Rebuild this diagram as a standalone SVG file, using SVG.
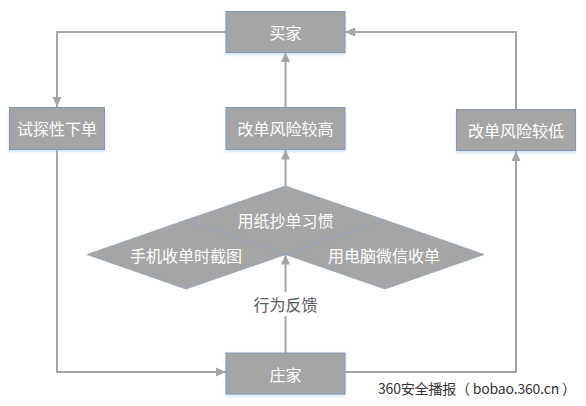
<svg xmlns="http://www.w3.org/2000/svg" width="586" height="406" viewBox="0 0 586 406">
  <style>
    .box { fill: #a5a5a5; stroke: #8496b0; stroke-width: 1; filter: url(#sh); }
    .dia { fill: #a5a5a5; stroke: #8fa1bd; stroke-width: 0.8; }
    .t { font-family: "Noto Sans CJK SC", "Microsoft YaHei", sans-serif; font-size: 16px; fill: #ffffff; text-anchor: middle; dominant-baseline: central; }
    .lbl { font-family: "Noto Sans CJK SC", sans-serif; font-size: 16px; fill: #595959; text-anchor: middle; dominant-baseline: central; }
    .wm { font-family: "Noto Sans CJK SC", sans-serif; font-size: 14px; fill: #333333; dominant-baseline: central; }
    .c { fill: none; stroke: #a5a5a5; stroke-width: 2; marker-end: url(#ah); }
  </style>
  <defs>
    <marker id="ah" markerUnits="userSpaceOnUse" markerWidth="11" markerHeight="10" refX="10" refY="5" orient="auto">
      <path d="M0,0.5 L10,5 L0,9.5 Z" fill="#a5a5a5"/>
    </marker>
    <filter id="sh" x="-10%" y="-20%" width="120%" height="150%">
      <feDropShadow dx="0" dy="2" stdDeviation="1.5" flood-color="#9dc3e6" flood-opacity="0.45"/>
    </filter>
  </defs>
  <rect width="586" height="406" fill="#ffffff"/>

  <g id="connectors">
    <path class="c" d="M226,32 H57 V107"/>
    <path class="c" d="M516,109 V32 H345"/>
    <path class="c" d="M285.5,107 V52"/>
    <path class="c" d="M285.5,186 V149.5"/>
    <path class="c" d="M57,149 V372 H226"/>
    <path class="c" d="M345,372 H516 V151"/>
    <path class="c" d="M285.5,353 V254.5"/>
    <rect x="250" y="292" width="71" height="24" fill="#ffffff"/>
    <text class="lbl" x="285.5" y="304">行为反馈</text>
  </g>

  <g id="buyer">
    <rect class="box" x="226" y="11.5" width="119" height="41"/>
    <text class="t" x="285.5" y="32">买家</text>
  </g>
  <g id="trial-order">
    <rect class="box" x="9.5" y="107.5" width="95" height="42"/>
    <text class="t" x="57" y="128">试探性下单</text>
  </g>
  <g id="high-risk">
    <rect class="box" x="226" y="107.5" width="119" height="42"/>
    <text class="t" x="285.5" y="128">改单风险较高</text>
  </g>
  <g id="low-risk">
    <rect class="box" x="456.5" y="109.5" width="119" height="41"/>
    <text class="t" x="516" y="130">改单风险较低</text>
  </g>
  <g id="dealer">
    <rect class="box" x="226" y="353" width="119" height="41"/>
    <text class="t" x="285.5" y="373.5">庄家</text>
  </g>

  <g id="paper-habit">
    <polygon class="dia" points="285.5,186 385,220 285.5,254.5 186,220"/>
    <text class="t" x="285.5" y="220">用纸抄单习惯</text>
  </g>
  <g id="phone-screenshot">
    <polygon class="dia" points="186,220 285.5,254.5 186,289 87,254.5"/>
    <text class="t" x="186" y="255">手机收单时截图</text>
  </g>
  <g id="pc-wechat">
    <polygon class="dia" points="385,220 484,254.5 385,289 285.5,254.5"/>
    <text class="t" x="384" y="255">用电脑微信收单</text>
  </g>

  <text class="wm" x="378" y="388" textLength="198" lengthAdjust="spacing">360安全播报（ bobao.360.cn ）</text>
</svg>
